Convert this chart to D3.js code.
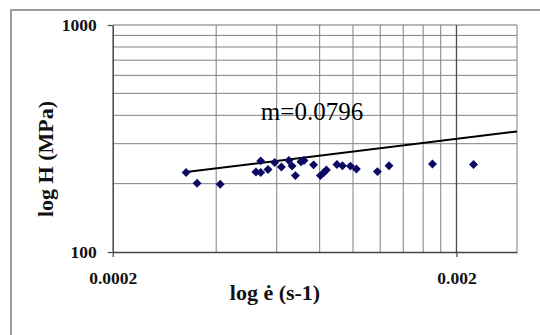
<!DOCTYPE html>
<html>
<head>
<meta charset="utf-8">
<script src="https://cdn.jsdelivr.net/npm/d3@7"></script>
<style>
  html, body { margin: 0; padding: 0; background: #fff; }
  svg { display: block; font-family: "Liberation Serif", "Times New Roman", serif; }
</style>
</head>
<body>
<div id="dynamicContent"></div>
<script>
// strain rate (s-1) of each point
const strainRate = [0.000327, 0.000352, 0.000411, 0.000522, 0.000539, 0.000539, 0.000566,
  0.000592, 0.000619, 0.000651, 0.000665, 0.00068, 0.000706, 0.00072, 0.000768, 0.000804,
  0.000823, 0.000837, 0.000898, 0.000932, 0.000983, 0.001023, 0.001178, 0.001273, 0.001703, 0.002242];
// hardness H (MPa)
const hardness = [224, 201, 199, 225, 252, 224, 231, 248, 237, 253, 239, 217, 250, 253, 242,
  217, 224, 230, 243, 240, 239, 232, 226, 240, 244, 243];
// fitted line, two end points
const fitRate = [0.000327, 0.003];
const fitHardness = [225, 339.5];
const fitLabel = "m=0.0796";

const xTicks = [0.0002, 0.002];
const xMinor = [0.0004, 0.0006, 0.0008, 0.001, 0.0012, 0.0014, 0.0016, 0.0018];
const yTicks = [100, 1000];
const yMinor = [200, 300, 400, 500, 600, 700, 800, 900];

function drawChart() {
  const width = 540, height = 335;
  const left = 112.7, right = 517, top = 25, bottom = 252;

  const svg = d3.select("#dynamicContent").append("svg")
    .attr("width", width).attr("height", height);

  svg.append("rect").attr("width", width).attr("height", height).attr("fill", "#fff");
  // outer frame, cut by the picture edge on the right and bottom
  svg.append("rect")
    .attr("x", 11).attr("y", 10).attr("width", 600).attr("height", 400)
    .attr("fill", "none").attr("stroke", "#9c9c9c").attr("stroke-width", 2);

  const x = d3.scaleLog().domain([0.0002, 0.003]).range([left, right]);
  const y = d3.scaleLog().domain([100, 1000]).range([bottom, top]);

  const grid = svg.append("g");
  grid.selectAll(".vx").data(xMinor).join("line")
    .attr("x1", d => x(d)).attr("x2", d => x(d)).attr("y1", top).attr("y2", bottom)
    .attr("stroke", "#808080").attr("stroke-width", 1);
  grid.selectAll(".hy").data(yMinor).join("line")
    .attr("y1", d => y(d)).attr("y2", d => y(d)).attr("x1", left).attr("x2", right)
    .attr("stroke", "#808080").attr("stroke-width", 1);
  // major grid
  grid.append("line")
    .attr("x1", x(0.002)).attr("x2", x(0.002)).attr("y1", top).attr("y2", bottom)
    .attr("stroke", "#4a4a4a").attr("stroke-width", 1.3);
  grid.append("line")
    .attr("x1", left).attr("x2", right).attr("y1", y(1000)).attr("y2", y(1000))
    .attr("stroke", "#707070").attr("stroke-width", 1.2);
  grid.append("line")
    .attr("x1", right).attr("x2", right).attr("y1", top).attr("y2", bottom)
    .attr("stroke", "#808080").attr("stroke-width", 1);

  const yAxis = svg.append("g").attr("transform", `translate(${left},0)`)
    .call(d3.axisLeft(y).tickValues(yTicks).tickFormat(d => String(d))
      .tickSizeInner(5).tickSizeOuter(0).tickPadding(11));
  const xAxis = svg.append("g").attr("transform", `translate(0,${bottom})`)
    .call(d3.axisBottom(x).tickValues(xTicks).tickFormat(d => String(d))
      .tickSizeInner(5).tickSizeOuter(0).tickPadding(15));
  [xAxis, yAxis].forEach(a => {
    a.select(".domain").attr("stroke", "#444").attr("stroke-width", 1.5);
    a.selectAll(".tick line").attr("stroke", "#444").attr("stroke-width", 1.2);
    a.selectAll(".tick text")
      .attr("font-family", "Liberation Serif, serif")
      .attr("font-size", 17.5).attr("font-weight", "bold").attr("fill", "#111");
  });

  const pts = strainRate.map((d, i) => [d, hardness[i]]);
  svg.append("line")
    .attr("x1", x(fitRate[0])).attr("y1", y(fitHardness[0]))
    .attr("x2", x(fitRate[1])).attr("y2", y(fitHardness[1]))
    .attr("stroke", "#000").attr("stroke-width", 2);

  svg.append("g").selectAll("path").data(pts).join("path")
    .attr("d", d3.symbol(d3.symbolSquare, 40))
    .attr("transform", d => `translate(${x(d[0])},${y(d[1])}) rotate(45)`)
    .attr("fill", "#0a0a60");

  svg.append("text")
    .attr("x", 312).attr("y", 120).attr("text-anchor", "middle")
    .attr("font-size", 25).attr("fill", "#000").text(fitLabel);

  svg.append("text")
    .attr("transform", "translate(53,159) rotate(-90)").attr("text-anchor", "middle")
    .attr("font-size", 22).attr("font-weight", "bold").attr("fill", "#111")
    .text("log H (MPa)");
  svg.append("text")
    .attr("x", 275).attr("y", 300).attr("text-anchor", "middle")
    .attr("font-size", 22).attr("font-weight", "bold").attr("fill", "#111")
    .text("log ė (s-1)");
}
drawChart();
</script>
</body>
</html>
